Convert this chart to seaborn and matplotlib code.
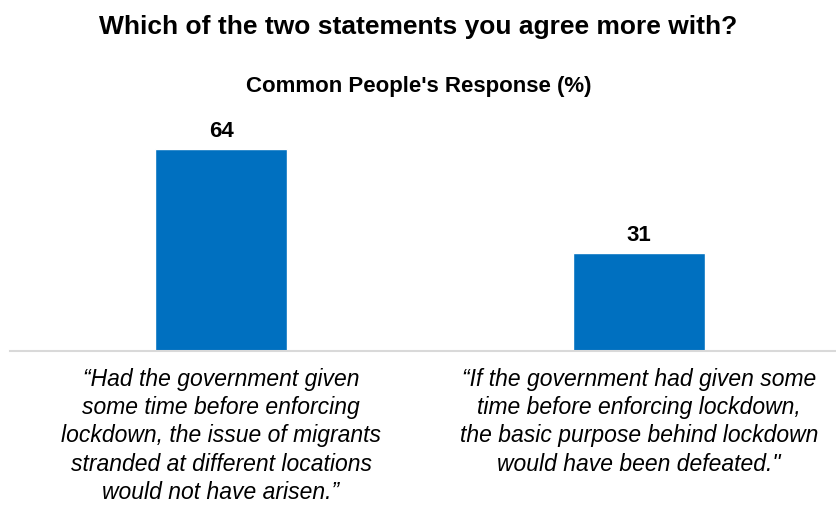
import matplotlib
matplotlib.use("Agg")
import matplotlib.pyplot as plt
import seaborn as sns
import pandas as pd

categories = [
    "\u201cHad the government given\nsome time before enforcing\nlockdown, the issue of migrants\nstranded at different locations\nwould not have arisen.\u201d",
    "\u201cIf the government had given some\ntime before enforcing lockdown,\nthe basic purpose behind lockdown\nwould have been defeated.\"",
]
values = [64, 31]
value_labels = ["64", "31"]

sns.set_theme(style="white")
plt.rcParams["font.family"] = ["Liberation Sans", "DejaVu Sans"]
plt.rcParams["text.color"] = "black"

df = pd.DataFrame({"statement": categories, "pct": values})

fig = plt.figure(figsize=(8.37, 5.05), dpi=100)
ax = fig.add_axes([10 / 837, 154 / 505, 827 / 837, 252.5 / 505])
sns.barplot(data=df, x="statement", y="pct", color="#0070C0", width=0.316,
            saturation=1, ax=ax)
ax.set_xlim(-0.505, 1.474)
ax.set_ylim(0, 80)
for c in ax.containers:
    ax.bar_label(c, labels=value_labels, padding=5, fontsize=16,
                 fontweight="bold", color="black")
for s in ["top", "right", "left"]:
    ax.spines[s].set_visible(False)
ax.spines["bottom"].set_color("#D9D9D9")
ax.spines["bottom"].set_linewidth(1.5)
ax.set_yticks([])
ax.set_xlabel("")
ax.set_ylabel("")
ax.tick_params(axis="x", length=0, pad=12)
for t in ax.get_xticklabels():
    t.set_fontsize(16.5)
    t.set_fontstyle("italic")
    t.set_linespacing(1.3)
    t.set_color("black")
    t.set_verticalalignment("top")

fig.text(0.5, 1 - 27 / 505, "Which of the two statements you agree more with?",
         ha="center", va="center", fontsize=19, fontweight="bold", color="black")
fig.text(0.5, 1 - 87 / 505, "Common People's Response (%)",
         ha="center", va="center", fontsize=16, fontweight="bold", color="black")

fig.savefig("out.png", dpi=100)
